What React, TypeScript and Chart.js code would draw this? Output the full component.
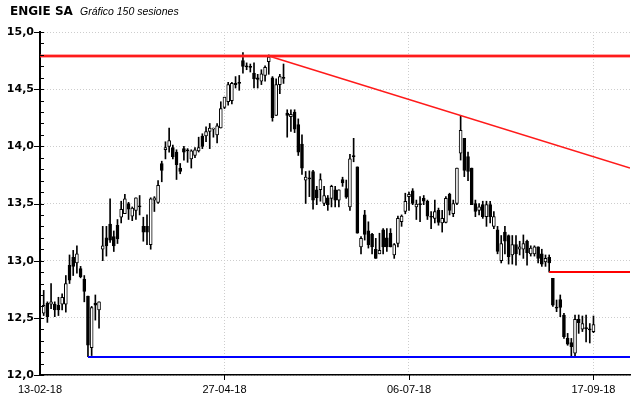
import React, { useEffect, useRef } from 'react';
import { Chart, registerables } from 'chart.js';
Chart.register(...registerables);

// Session OHLC values (150 sessions)
const opens = [
  12.54, 12.63, 12.62, 12.62, 12.61, 12.62, 12.62, 12.96, 13.03, 12.98,
  12.93, 12.84, 12.69, 12.24, 12.63, 12.57, 13.10, 13.20, 13.32, 13.21,
  13.31, 13.38, 13.41, 13.50, 13.39, 13.44, 13.48, 13.30, 13.30, 13.14,
  13.53, 13.51, 13.85, 13.97, 14.00, 13.99, 13.95, 13.81, 13.98, 13.97,
  13.89, 13.92, 13.96, 14.09, 14.09, 14.13, 14.15, 14.10, 14.16, 14.34,
  14.39, 14.40, 14.55, 14.56, 14.75, 14.70, 14.70, 14.64, 14.60, 14.57,
  14.62, 14.74, 14.60, 14.27, 14.54, 14.60, 14.29, 14.26, 14.30, 14.19,
  14.02, 13.705, 13.722, 13.78, 13.62, 13.62, 13.50, 13.55, 13.545, 13.62,
  13.53, 13.71, 13.63, 13.47, 13.915, 13.82, 13.12, 13.40, 13.26, 13.23,
  13.10, 13.06, 13.27, 13.20, 13.24, 13.05, 13.15, 13.34, 13.43, 13.56,
  13.61, 13.47, 13.50, 13.545, 13.52, 13.385, 13.37, 13.44, 13.33, 13.335,
  13.58, 13.41, 13.50, 13.94, 14.07, 13.91, 13.81, 13.50, 13.44, 13.49,
  13.385, 13.49, 13.30, 13.27, 13.00, 13.25, 13.22, 13.05, 13.14, 13.10,
  13.10, 13.17, 13.06, 13.06, 13.12, 13.06, 12.99, 13.03, 12.845, 12.59,
  12.66, 12.525, 12.32, 12.283, 12.19, 12.486, 12.40, 12.408, 12.40, 12.38,
];
const highs = [
  12.74, 12.64, 12.80, 12.64, 12.68, 12.71, 12.87, 13.05, 13.09, 13.13,
  12.95, 12.87, 12.69, 12.60, 12.70, 12.64, 13.30, 13.30, 13.54, 13.26,
  13.36, 13.52, 13.58, 13.51, 13.47, 13.55, 13.57, 13.38, 13.40, 13.55,
  13.56, 13.70, 13.87, 14.04, 14.16, 14.01, 13.97, 13.85, 14.00, 13.98,
  13.97, 13.99, 14.08, 14.11, 14.17, 14.20, 14.16, 14.20, 14.39, 14.43,
  14.56, 14.56, 14.61, 14.62, 14.82, 14.73, 14.72, 14.73, 14.63, 14.67,
  14.705, 14.80, 14.61, 14.59, 14.63, 14.72, 14.32, 14.32, 14.32, 14.24,
  14.10, 13.78, 13.785, 13.79, 13.65, 13.76, 13.65, 13.57, 13.66, 13.65,
  13.62, 13.73, 13.705, 13.93, 14.07, 13.82, 13.21, 13.44, 13.34, 13.24,
  13.195, 13.24, 13.28, 13.28, 13.28, 13.15, 13.39, 13.40, 13.59, 13.60,
  13.63, 13.53, 13.56, 13.57, 13.53, 13.43, 13.53, 13.46, 13.44, 13.56,
  13.59, 13.53, 13.81, 14.27, 14.07, 13.95, 13.81, 13.53, 13.50, 13.52,
  13.52, 13.52, 13.43, 13.30, 13.22, 13.30, 13.225, 13.22, 13.22, 13.17,
  13.225, 13.18, 13.13, 13.13, 13.12, 13.10, 13.05, 13.05, 12.845, 12.656,
  12.70, 12.54, 12.364, 12.32, 12.525, 12.525, 12.516, 12.525, 12.45, 12.516,
];
const lows = [
  12.52, 12.46, 12.58, 12.51, 12.52, 12.57, 12.55, 12.80, 12.87, 12.89,
  12.85, 12.64, 12.16, 12.17, 12.48, 12.41, 13.00, 13.04, 13.16, 13.08,
  13.15, 13.33, 13.41, 13.36, 13.35, 13.36, 13.40, 13.17, 13.14, 13.10,
  13.43, 13.50, 13.69, 13.89, 13.95, 13.89, 13.71, 13.76, 13.88, 13.86,
  13.81, 13.90, 13.95, 13.98, 14.04, 13.98, 14.08, 14.03, 14.16, 14.33,
  14.36, 14.37, 14.51, 14.49, 14.64, 14.67, 14.65, 14.51, 14.51, 14.54,
  14.57, 14.63, 14.22, 14.27, 14.46, 14.55, 14.08, 14.13, 14.12, 13.92,
  13.755, 13.50, 13.56, 13.45, 13.49, 13.52, 13.48, 13.44, 13.47, 13.47,
  13.47, 13.65, 13.545, 13.44, 13.865, 13.24, 13.06, 13.18, 13.11, 13.06,
  13.02, 13.06, 13.06, 13.08, 13.12, 13.02, 13.12, 13.30, 13.41, 13.44,
  13.49, 13.36, 13.34, 13.49, 13.36, 13.28, 13.33, 13.31, 13.25, 13.33,
  13.40, 13.385, 13.49, 13.88, 13.735, 13.70, 13.49, 13.385, 13.40, 13.37,
  13.30, 13.33, 13.28, 13.06, 12.98, 13.06, 12.97, 12.97, 12.96, 13.05,
  13.02, 12.96, 13.04, 13.04, 12.98, 12.95, 12.95, 12.90, 12.60, 12.554,
  12.51, 12.32, 12.26, 12.166, 12.166, 12.364, 12.38, 12.29, 12.28, 12.37,
];
const closes = [
  12.61, 12.51, 12.64, 12.57, 12.57, 12.68, 12.80, 12.83, 12.95, 13.06,
  12.86, 12.73, 12.26, 12.59, 12.61, 12.64, 13.13, 13.13, 13.18, 13.13,
  13.19, 13.45, 13.54, 13.45, 13.46, 13.55, 13.47, 13.25, 13.25, 13.54,
  13.55, 13.66, 13.79, 13.99, 14.05, 13.91, 13.84, 13.78, 13.95, 13.96,
  13.96, 13.97, 13.99, 14.00, 14.13, 14.16, 14.16, 14.18, 14.33, 14.43,
  14.54, 14.55, 14.54, 14.55, 14.70, 14.695, 14.69, 14.59, 14.585, 14.635,
  14.69, 14.78, 14.25, 14.54, 14.61, 14.595, 14.27, 14.28, 14.15, 13.95,
  13.81, 13.73, 13.715, 13.53, 13.55, 13.71, 13.57, 13.49, 13.65, 13.53,
  13.62, 13.68, 13.555, 13.89, 13.91, 13.24, 13.195, 13.23, 13.14, 13.12,
  13.02, 13.09, 13.12, 13.12, 13.12, 13.14, 13.37, 13.39, 13.52, 13.58,
  13.50, 13.495, 13.49, 13.52, 13.39, 13.38, 13.43, 13.335, 13.37, 13.545,
  13.44, 13.50, 13.81, 14.14, 13.79, 13.78, 13.49, 13.43, 13.47, 13.385,
  13.49, 13.385, 13.385, 13.08, 13.15, 13.17, 13.035, 13.14, 13.06, 13.12,
  13.15, 13.07, 13.11, 13.12, 13.02, 12.97, 13.02, 12.98, 12.61, 12.585,
  12.59, 12.335, 12.27, 12.248, 12.486, 12.457, 12.45, 12.405, 12.395, 12.44,
];

// X-axis labels (session index -> date)
const tickIndex = [-1, 49, 99, 149];
const tickLabels = ['13-02-18', '27-04-18', '06-07-18', '17-09-18'];

// Drawn levels
const resistanceLevel = 14.79;
const supportLevel = 12.157;
const supportStart = 12;
const level2 = 12.9;
const level2Start = 137;
const trendFrom = { x: 61, y: 14.79 };
const trendTo = { x: 113, y: 14.27 };

const yMin = 12;
const yMax = 15;
const xMin = -1;
const xMax = 158.9;

const axisTicks = {
  id: 'axisTicks',
  afterDraw(chart: any) {
    const { ctx, scales, chartArea } = chart;
    const y = scales.y;
    const x = scales.x;
    ctx.save();
    ctx.strokeStyle = '#000';
    ctx.lineWidth = 1;
    ctx.beginPath();
    const steps = Math.round((yMax - yMin) / 0.1);
    for (let k = 0; k <= steps; k++) {
      const v = yMin + k * 0.1;
      const py = Math.round(y.getPixelForValue(v)) + 0.5;
      const major = k % 5 === 0;
      ctx.moveTo(chartArea.left - (major ? 6 : 0), py);
      ctx.lineTo(chartArea.left + 4, py);
    }
    tickIndex.slice(1).forEach((i) => {
      const px = Math.round(x.getPixelForValue(i)) + 0.5;
      ctx.moveTo(px, chartArea.bottom);
      ctx.lineTo(px, chartArea.bottom + 5);
    });
    ctx.stroke();
    ctx.restore();
  },
};

export default function App() {
  const ref = useRef<HTMLCanvasElement | null>(null);

  useEffect(() => {
    if (!ref.current) return;
    const idx = closes.map((_, i) => i);
    const slope = (trendTo.y - trendFrom.y) / (trendTo.x - trendFrom.x);
    const chart = new Chart(ref.current, {
      type: 'bar',
      data: {
        datasets: [
          {
            type: 'line',
            data: [
              { x: xMin, y: resistanceLevel },
              { x: xMax, y: resistanceLevel },
            ],
            borderColor: 'rgba(255,60,60,0.45)',
            borderWidth: 4,
            pointRadius: 0,
            order: 0,
          } as any,
          {
            type: 'line',
            data: [
              { x: xMin, y: resistanceLevel },
              { x: xMax, y: resistanceLevel },
            ],
            borderColor: '#ff0000',
            borderWidth: 2,
            pointRadius: 0,
            order: 0,
          } as any,
          {
            type: 'line',
            data: [
              { x: trendFrom.x, y: trendFrom.y },
              { x: xMax, y: trendFrom.y + slope * (xMax - trendFrom.x) },
            ],
            borderColor: '#ff1a1a',
            borderWidth: 1.5,
            pointRadius: 0,
            order: 0,
          } as any,
          {
            type: 'line',
            data: [
              { x: level2Start, y: level2 },
              { x: xMax, y: level2 },
            ],
            borderColor: '#ff0000',
            borderWidth: 2,
            pointRadius: 0,
            order: 0,
          } as any,
          {
            type: 'line',
            data: [
              { x: supportStart, y: supportLevel },
              { x: xMax, y: supportLevel },
            ],
            borderColor: '#0000ff',
            borderWidth: 2,
            pointRadius: 0,
            order: 0,
          } as any,
          {
            type: 'bar',
            data: idx.map((i) => ({ x: i, y: [opens[i], closes[i]] })),
            backgroundColor: idx.map((i) => (closes[i] >= opens[i] ? '#ffffff' : '#000000')),
            borderColor: '#000000',
            borderWidth: 1,
            borderSkipped: false,
            barThickness: 3,
            minBarLength: 1,
            grouped: false,
            order: 1,
          } as any,
          {
            type: 'bar',
            data: idx.map((i) => ({ x: i, y: [lows[i], highs[i]] })),
            backgroundColor: '#000000',
            borderWidth: 0,
            barThickness: 1,
            grouped: false,
            order: 2,
          } as any,
        ],
      },
      options: {
        animation: false,
        responsive: false,
        devicePixelRatio: 1,
        events: [],
        layout: { padding: { left: 0, right: 10, top: 32, bottom: 0 } },
        plugins: {
          legend: { display: false },
          tooltip: { enabled: false },
          title: { display: false },
        },
        scales: {
          x: {
            type: 'linear',
            min: xMin,
            max: xMax,
            offset: false,
            afterBuildTicks: (scale: any) => {
              scale.ticks = tickIndex.map((v) => ({ value: v }));
            },
            afterFit: (scale: any) => {
              scale.height = 23;
            },
            ticks: {
              autoSkip: false,
              maxRotation: 0,
              padding: 8,
              color: '#000',
              font: { family: 'Liberation Sans', size: 11 },
              callback: (_v: any, i: number) => tickLabels[i],
            },
            grid: {
              offset: false,
              drawTicks: false,
              lineWidth: 1,
              color: (c: any) => (c.index === 0 ? 'rgba(0,0,0,0)' : '#cdcdcd'),
            },
            border: { display: true, color: '#000', width: 1.5, dash: [1, 2] },
          },
          y: {
            type: 'linear',
            min: yMin,
            max: yMax,
            beginAtZero: false,
            afterFit: (scale: any) => {
              scale.width = 40;
            },
            ticks: {
              stepSize: 0.5,
              padding: 6,
              color: '#000',
              font: { family: 'DejaVu Sans', size: 11, weight: 'bold' },
              callback: (v: any) => Number(v).toFixed(1).replace('.', ','),
            },
            grid: {
              drawTicks: false,
              lineWidth: 1,
              color: '#cdcdcd',
            },
            border: { display: true, color: '#000', width: 2, dash: [1, 2] },
          },
        },
      } as any,
      plugins: [axisTicks],
    });
    return () => chart.destroy();
  }, []);

  return (
    <div style={{ position: 'fixed', left: 0, top: 0, width: 640, height: 398, background: '#fff' }}>
      <div
        style={{
          position: 'absolute',
          left: 10,
          top: 5,
          fontFamily: 'DejaVu Sans',
          fontWeight: 'bold',
          fontSize: 12,
          lineHeight: '12px',
          color: '#000',
          whiteSpace: 'nowrap',
        }}
      >
        ENGIE SA
      </div>
      <div
        style={{
          position: 'absolute',
          left: 80,
          top: 6,
          fontFamily: 'Liberation Sans',
          fontStyle: 'italic',
          fontSize: 10.5,
          lineHeight: '10.5px',
          color: '#000',
          whiteSpace: 'nowrap',
        }}
      >
        Gráfico 150 sesiones
      </div>
      <canvas ref={ref} width={640} height={398} style={{ display: 'block' }} />
    </div>
  );
}
